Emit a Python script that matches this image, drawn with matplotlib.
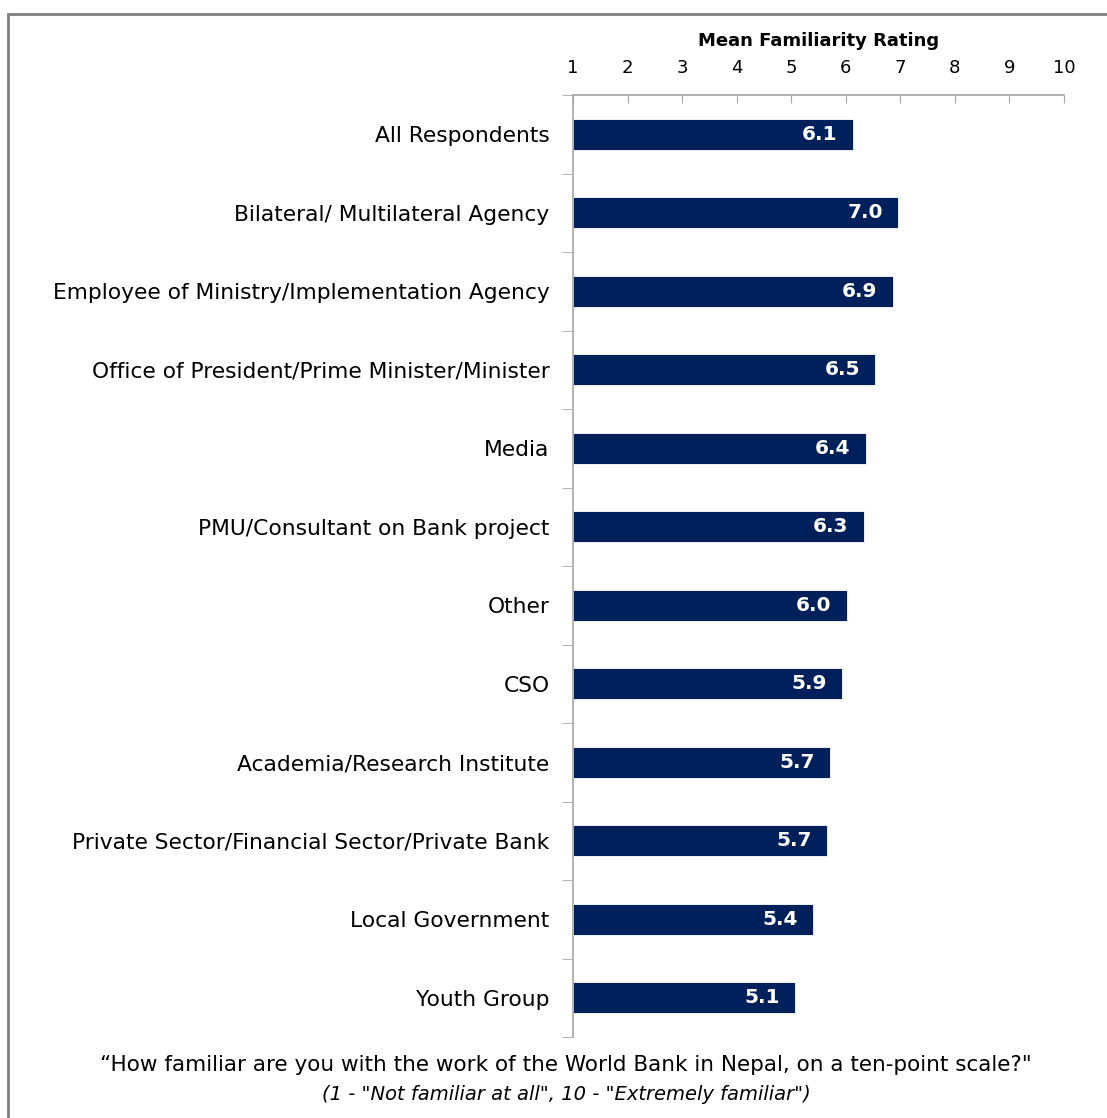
import numpy as np
import matplotlib.pyplot as plt
from matplotlib.patches import Rectangle
from matplotlib.ticker import FixedLocator

# Data
categories = [
    "All Respondents",
    "Bilateral/ Multilateral Agency",
    "Employee of Ministry/Implementation Agency",
    "Office of President/Prime Minister/Minister",
    "Media",
    "PMU/Consultant on Bank project",
    "Other",
    "CSO",
    "Academia/Research Institute",
    "Private Sector/Financial Sector/Private Bank",
    "Local Government",
    "Youth Group",
]
ratings = [6.13, 6.96, 6.86, 6.54, 6.37, 6.33, 6.02, 5.93, 5.71, 5.66, 5.40, 5.07]
x_ticks = [1, 2, 3, 4, 5, 6, 7, 8, 9, 10]

BAR_COLOR = "#00205B"
GREY = "#A6A6A6"

fig = plt.figure(figsize=(11.07, 11.18), dpi=100)
W, H = 1107, 1118
ax = fig.add_axes([573 / W, 1 - 1037 / H, (1064 - 573) / W, (1037 - 95) / H])

y = np.arange(len(categories))
ax.barh(y, [r - 1 for r in ratings], left=1, height=0.4, color=BAR_COLOR,
        edgecolor="white", linewidth=0.6)

for yi, r in zip(y, ratings):
    ax.text(r - 0.28, yi, f"{r:.1f}", color="white", fontsize=14.5,
            fontweight="bold", ha="right", va="center")

ax.set_xlim(1, 10)
ax.set_ylim(len(categories) - 0.5, -0.5)
ax.set_xticks(x_ticks)
ax.set_xticklabels([str(t) for t in x_ticks], fontsize=13)
ax.xaxis.tick_top()
ax.xaxis.set_label_position("top")
ax.set_xlabel("Mean Familiarity Rating", fontsize=13, fontweight="bold", labelpad=9)
ax.tick_params(axis="x", direction="in", length=6, color=GREY, pad=13)

ax.set_yticks(y)
ax.set_yticklabels(categories, fontsize=15.7)
ax.tick_params(axis="y", which="major", length=0, pad=17)
ax.yaxis.set_minor_locator(FixedLocator(np.arange(-0.5, len(categories), 1.0)))
ax.tick_params(axis="y", which="minor", length=8, color=GREY, direction="out")

for side in ["right", "bottom"]:
    ax.spines[side].set_visible(False)
for side in ["top", "left"]:
    ax.spines[side].set_color(GREY)
    ax.spines[side].set_linewidth(1.2)

# Caption under the chart
fig.text(566 / W, 1 - 1065 / H,
         "\u201cHow familiar are you with the work of the World Bank in Nepal, on a ten-point scale?\"",
         ha="center", va="center", fontsize=15.5)
fig.text(566 / W, 1 - 1094 / H,
         "(1 - \"Not familiar at all\", 10 - \"Extremely familiar\")",
         ha="center", va="center", fontsize=14, style="italic")

# Frame around the chart area (cut off at right and bottom)
fig.patches.append(Rectangle((8 / W, -0.05), 1.1, 1 - 14 / H + 0.05,
                             transform=fig.transFigure, fill=False,
                             edgecolor="#808080", linewidth=2))

fig.savefig("out.png", dpi=100)
